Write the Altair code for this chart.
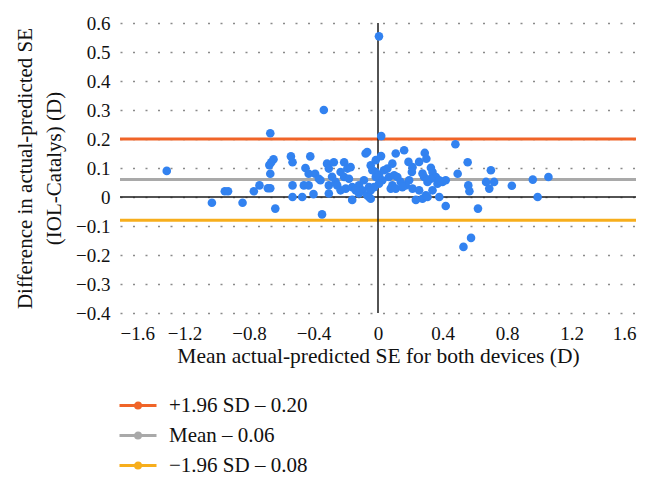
import altair as alt
import pandas as pd

# ---- data ----
mean_x = [-1.31, -1.03, -0.95, -0.93, -0.84, -0.77, -0.735, -0.683, -0.668, -0.668,
          -0.674, -0.648, -0.662, -0.668, -0.637, -0.54, -0.53, -0.53, -0.53, -0.47,
          -0.46, -0.43, -0.45, -0.43, -0.42, -0.40, -0.39, -0.367, -0.357, -0.347,
          -0.336, -0.316, -0.305, -0.305, -0.305, -0.274, -0.285, -0.263, -0.253, -0.21,
          -0.19, -0.17, -0.232, -0.21, -0.18, -0.20, -0.232, -0.16, -0.16, -0.118,
          -0.098, -0.087, -0.067, -0.056, -0.077, -0.067, -0.045, -0.035, -0.014, -0.014,
          -0.056, -0.118, -0.139, 0.006, 0.02, 0.019, -0.014, 0.006, 0.027, 0.006,
          -0.024, -0.045, -0.045, 0.037, 0.058, 0.089, 0.11, 0.162, 0.189, 0.068,
          0.079, 0.214, 0.21, 0.193, 0.172, 0.141, 0.12, 0.10, 0.089, 0.11,
          0.151, 0.214, 0.255, 0.297, 0.338, 0.369, 0.40, 0.42, 0.276, 0.307,
          0.328, 0.338, 0.359, 0.38, 0.328, 0.307, 0.286, 0.276, 0.29, 0.30,
          0.255, 0.235, 0.38, 0.42, 0.48, 0.556, 0.494, 0.56, 0.567, 0.62,
          0.577, 0.53, 0.70, 0.67, 0.72, 0.69, 0.83, 0.96, 1.057, 0.99]
diff_y = [0.09, -0.02, 0.02, 0.02, -0.02, 0.02, 0.04, 0.03, 0.03, 0.08,
          0.11, 0.13, 0.12, 0.22, -0.04, 0.14, 0.12, 0.04, 0.0, 0.0,
          0.04, 0.04, 0.10, 0.08, 0.14, 0.01, 0.08, 0.063, 0.058, -0.06,
          0.30, 0.115, 0.098, 0.04, 0.012, 0.12, 0.07, 0.052, 0.04, 0.12,
          0.098, 0.103, 0.086, 0.069, 0.063, 0.029, 0.023, 0.034, -0.01, 0.04,
          0.023, 0.058, 0.006, 0.0, 0.15, 0.155, 0.109, 0.092, 0.127, 0.069,
          0.034, 0.012, 0.023, 0.554, 0.21, 0.141, 0.086, 0.075, 0.058, 0.046,
          0.034, 0.023, -0.006, 0.092, 0.098, 0.115, 0.15, 0.161, 0.121, 0.069,
          0.029, 0.103, 0.086, 0.058, 0.04, 0.052, 0.069, 0.075, 0.04, 0.029,
          0.034, 0.029, 0.023, 0.006, 0.023, 0.046, 0.052, 0.058, -0.006, 0.0,
          0.101, 0.086, 0.069, 0.058, 0.063, 0.052, 0.069, 0.081, 0.152, 0.132,
          0.121, -0.01, 0.0, -0.031, 0.182, 0.12, 0.08, 0.04, 0.02, -0.04,
          -0.141, -0.172, 0.092, 0.052, 0.052, 0.029, 0.039, 0.06, 0.069, 0.0]

ref_labels = ["+1.96 SD \u2013 0.20", "Mean \u2013 0.06", "\u22121.96 SD \u2013 0.08"]
ref_values = [0.20, 0.06, -0.08]
ref_colors = ["#f06428", "#a9a9a9", "#f7ae1c"]

x_ticks = [-1.6, -1.2, -0.8, -0.4, 0, 0.4, 0.8, 1.2, 1.6]
y_ticks = [-0.4, -0.3, -0.2, -0.1, 0, 0.1, 0.2, 0.3, 0.4, 0.5, 0.6]

FONT = "Liberation Serif"

points = pd.DataFrame({"x": mean_x, "y": diff_y})
refs = pd.DataFrame({"y": ref_values, "label": ref_labels})
hzero = pd.DataFrame({"y": [0.0]})
vzero = pd.DataFrame({"x": [0.0]})

x_scale = alt.Scale(domain=[-1.6, 1.6], nice=False, zero=False)
y_scale = alt.Scale(domain=[-0.4, 0.6], nice=False, zero=False)

x_axis = alt.Axis(values=x_ticks, format=".1~f", grid=False, domain=False, ticks=False,
                  tickSize=0, labelPadding=11,
                  title="Mean actual-predicted SE for both devices (D)",
                  titleFont=FONT, titleFontSize=21.5, titleFontWeight="normal",
                  titleColor="#111", titleBaseline="alphabetic", titleY=49)
y_axis = alt.Axis(values=y_ticks, format=".1~f", grid=True, gridDash=[2, 10.5],
                  gridColor="#8a8a8a", gridWidth=1.5, domain=False, ticks=False,
                  tickSize=0, labelPadding=10,
                  title=["Difference in actual-predicted SE", "(IOL-Catalys) (D)"],
                  titleFont=FONT, titleFontSize=21, titleFontWeight="normal",
                  titleColor="#111", titleAngle=270, titleAlign="center",
                  titleBaseline="middle", titleLineHeight=29, titleX=-95, titleY=145)

X = alt.X("x:Q", scale=x_scale, axis=x_axis)
Y = alt.Y("y:Q", scale=y_scale, axis=y_axis)

sym_path = ("M-1,0L2.7,0M0.6,0A0.25,0.25,0,1,0,1.1,0A0.25,0.25,0,1,0,0.6,0"
            "M0.75,0A0.1,0.1,0,1,0,0.95,0A0.1,0.1,0,1,0,0.75,0")

ref_layer = alt.Chart(refs).mark_rule(strokeWidth=3).encode(
    y=Y,
    color=alt.Color("label:N", sort=ref_labels,
                    scale=alt.Scale(domain=ref_labels, range=ref_colors),
                    legend=alt.Legend(title=None, orient="none", direction="vertical",
                                      legendX=-2, legendY=371, padding=0,
                                      symbolType=sym_path, symbolSize=400,
                                      symbolStrokeWidth=3, labelOffset=28,
                                      rowPadding=8, labelFont=FONT, labelFontSize=21,
                                      labelColor="#111", labelLimit=400)),
)

h_layer = alt.Chart(hzero).mark_rule(color="#1a1a1a", strokeWidth=1.5).encode(y=Y)
v_layer = alt.Chart(vzero).mark_rule(color="#1a1a1a", strokeWidth=1.5).encode(x=X)

pts = alt.Chart(points).mark_circle(size=74, color="#3282f0", opacity=1).encode(x=X, y=Y)

chart = alt.layer(ref_layer, h_layer, v_layer, pts).properties(
    width=516, height=290,
    autosize="none",
    padding={"left": 112, "top": 15, "right": 20, "bottom": 180},
).configure_view(stroke=None).configure_axis(
    labelFont=FONT, labelFontSize=19, labelColor="#111"
)

chart.save("out.html", embed_options={"renderer": "svg", "actions": False})
